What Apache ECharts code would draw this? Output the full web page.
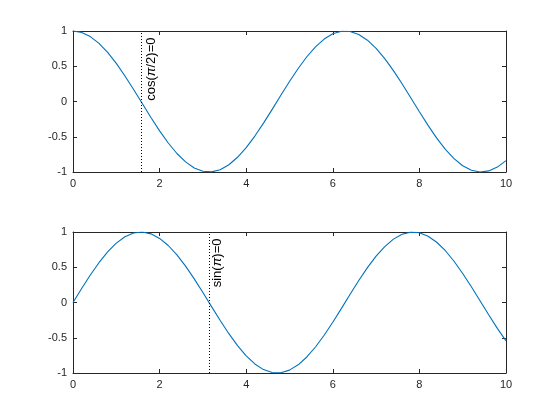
<!DOCTYPE html>
<html>
<head>
<meta charset="utf-8">
<script src="https://cdn.jsdelivr.net/npm/echarts@6/dist/echarts.min.js"></script>
<style>
html,body{margin:0;padding:0;background:#fff;}
#chart{width:560px;height:420px;}
</style>
</head>
<body>
<div id="chart"></div>
<script>
// x samples 0..10 step 0.2
var xValues = [0,0.2,0.4,0.6,0.8,1.0,1.2,1.4,1.6,1.8,2.0,2.2,2.4,2.6,2.8,3.0,3.2,3.4,3.6,3.8,4.0,4.2,4.4,4.6,4.8,5.0,5.2,5.4,5.6,5.8,6.0,6.2,6.4,6.6,6.8,7.0,7.2,7.4,7.6,7.8,8.0,8.2,8.4,8.6,8.8,9.0,9.2,9.4,9.6,9.8,10.0];
var cosValues = [1.0000,0.9801,0.9211,0.8253,0.6967,0.5403,0.3624,0.1700,-0.0292,-0.2272,-0.4161,-0.5885,-0.7374,-0.8569,-0.9422,-0.9900,-0.9983,-0.9668,-0.8968,-0.7910,-0.6536,-0.4903,-0.3073,-0.1122,0.0875,0.2837,0.4685,0.6347,0.7756,0.8855,0.9602,0.9965,0.9932,0.9502,0.8694,0.7539,0.6084,0.4385,0.2513,0.0540,-0.1455,-0.3392,-0.5193,-0.6787,-0.8111,-0.9111,-0.9748,-0.9994,-0.9841,-0.9304,-0.8391];
var sinValues = [0.0000,0.1987,0.3894,0.5646,0.7174,0.8415,0.9320,0.9854,0.9996,0.9738,0.9093,0.8085,0.6755,0.5155,0.3350,0.1411,-0.0584,-0.2555,-0.4425,-0.6119,-0.7568,-0.8716,-0.9516,-0.9937,-0.9962,-0.9589,-0.8835,-0.7728,-0.6313,-0.4646,-0.2794,-0.0831,0.1165,0.3115,0.4941,0.6570,0.7937,0.8987,0.9679,0.9985,0.9894,0.9407,0.8546,0.7344,0.5849,0.4121,0.2229,0.0248,-0.1743,-0.3665,-0.5440];
var markerX = [1.5708, 3.1416];
var markerTexts = ['cos({i|π}/2)=0', 'sin({i|π})=0'];
var xTicks = [0, 2, 4, 6, 8, 10];
var yTicks = [-1, -0.5, 0, 0.5, 1];

var axisColor = '#262626';
var font = 'Liberation Sans, Arial, sans-serif';

function makeX(grid, pos, labels) {
  return {
    type: 'value', gridIndex: grid, position: pos,
    min: xTicks[0], max: xTicks[xTicks.length - 1], interval: xTicks[1] - xTicks[0],
    axisLine: { show: true, onZero: false, lineStyle: { color: axisColor, width: 1 } },
    axisTick: { show: true, inside: true, length: 4, lineStyle: { color: axisColor } },
    axisLabel: { show: labels, margin: 6, color: axisColor, fontSize: 11, fontFamily: font },
    splitLine: { show: false }
  };
}
function makeY(grid, pos, labels) {
  return {
    type: 'value', gridIndex: grid, position: pos,
    min: yTicks[0], max: yTicks[yTicks.length - 1], interval: yTicks[1] - yTicks[0],
    axisLine: { show: true, onZero: false, lineStyle: { color: axisColor, width: 1 } },
    axisTick: { show: true, inside: true, length: 4, lineStyle: { color: axisColor } },
    axisLabel: { show: labels, margin: 6, color: axisColor, fontSize: 11, fontFamily: font },
    splitLine: { show: false }
  };
}

function curve(ys) { return xValues.map(function (x, i) { return [x, ys[i]]; }); }

function lineSeries(idx, ys, mx) {
  return {
    type: 'line', xAxisIndex: idx * 2, yAxisIndex: idx * 2,
    data: curve(ys), showSymbol: false, symbol: 'none', animation: false,
    lineStyle: { color: '#0072BD', width: 1.1 },
    markLine: {
      silent: true, symbol: 'none', animation: false,
      lineStyle: { color: '#000', type: [1, 2], width: 1 },
      label: { show: false },
      data: [{ xAxis: mx }]
    }
  };
}
function labelSeries(idx, mx, txt, dx) {
  return {
    type: 'scatter', xAxisIndex: idx * 2, yAxisIndex: idx * 2,
    data: [[mx, yTicks[yTicks.length - 1]]], symbolSize: 1, animation: false, silent: true,
    itemStyle: { color: 'rgba(0,0,0,0)' },
    label: {
      show: true, formatter: txt, rotate: 90, position: [dx, 7],
      align: 'right', verticalAlign: 'top', opacity: 1,
      color: '#000', fontSize: 13, fontFamily: font,
      rich: { i: { fontStyle: 'italic', color: '#000', fontSize: 13, fontFamily: font } }
    }
  };
}

var option = {
  backgroundColor: '#fff',
  animation: false,
  grid: [
    { left: 73, top: 31, width: 433, height: 141 },
    { left: 73, top: 232, width: 433, height: 141 }
  ],
  xAxis: [makeX(0, 'bottom', true), makeX(0, 'top', false), makeX(1, 'bottom', true), makeX(1, 'top', false)],
  yAxis: [makeY(0, 'left', true), makeY(0, 'right', false), makeY(1, 'left', true), makeY(1, 'right', false)],
  series: [
    lineSeries(0, cosValues, markerX[0]),
    lineSeries(1, sinValues, markerX[1]),
    labelSeries(0, markerX[0], markerTexts[0], 4),
    labelSeries(1, markerX[1], markerTexts[1], 2)
  ]
};
option.series.push({ type: 'line', xAxisIndex: 1, yAxisIndex: 1, data: [] });
option.series.push({ type: 'line', xAxisIndex: 3, yAxisIndex: 3, data: [] });

var chart = echarts.init(document.getElementById('chart'), null, { renderer: 'canvas' });
chart.setOption(option);
</script>
</body>
</html>
